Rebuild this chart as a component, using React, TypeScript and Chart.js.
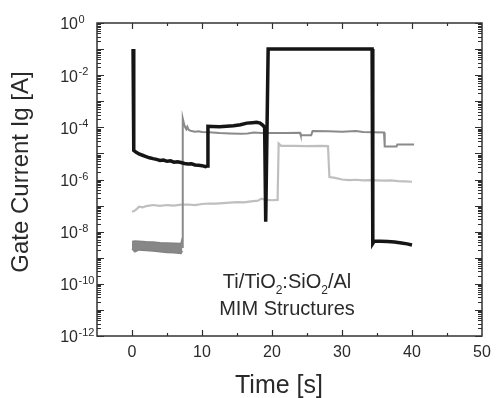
import React, { useEffect, useRef } from "react";
import { Chart, registerables } from "chart.js";

Chart.register(...registerables);

// ---- data (time in s, current in A) ----
const blackT = [0.15, 0.25, 0.6, 1.0, 1.5, 2.0, 2.5, 3.0, 3.5, 4.0, 4.5, 5.0, 5.5, 6.0, 6.5, 7.0, 7.5, 8.0, 8.5, 9.0, 9.5, 10.0, 10.5, 10.75, 10.85, 11.5, 12.5, 13.5, 14.5, 15.5, 16.4, 17.2, 17.8, 18.3, 18.7, 18.95, 19.1, 19.45, 34.3, 34.4, 34.6, 35.5, 36.5, 37.5, 38.5, 39.3, 40.0];
const blackI = [0.1, 1.3e-5, 1.1e-5, 9.5e-6, 8.5e-6, 7.6e-6, 6.8e-6, 6.3e-6, 5.9e-6, 5.4e-6, 5.6e-6, 5.0e-6, 5.2e-6, 4.6e-6, 4.8e-6, 4.5e-6, 4.1e-6, 3.9e-6, 4.0e-6, 3.6e-6, 3.5e-6, 3.4e-6, 3.1e-6, 3.3e-6, 1.1e-4, 1.08e-4, 1.05e-4, 1.1e-4, 1.15e-4, 1.25e-4, 1.45e-4, 1.5e-4, 1.55e-4, 1.45e-4, 1.2e-4, 1.0e-4, 2.4e-8, 0.1, 0.1, 3.6e-9, 4.4e-9, 4.3e-9, 4.2e-9, 4.0e-9, 3.7e-9, 3.4e-9, 3.1e-9];

const grayT = [7.15, 7.25, 7.45, 7.6, 7.75, 7.9, 8.1, 8.5, 9.0, 9.5, 10.0, 11.0, 12.5, 14.0, 15.5, 16.5, 17.4, 18.5, 20.0, 22.0, 24.0, 24.1, 25.6, 25.8, 28.0, 30.0, 32.0, 33.0, 36.0, 36.1, 37.8, 37.9, 40.3];
const grayI = [2.6e-9, 2.2e-4, 1.3e-4, 1.0e-4, 8.5e-5, 1.05e-4, 8e-5, 7.2e-5, 6.8e-5, 7.0e-5, 6.6e-5, 6.5e-5, 6.0e-5, 5.8e-5, 5.7e-5, 5.8e-5, 6.3e-5, 6.0e-5, 6.1e-5, 6.0e-5, 6.2e-5, 5.0e-5, 5.0e-5, 7.2e-5, 7.0e-5, 6.8e-5, 7.3e-5, 6.6e-5, 6.4e-5, 1.85e-5, 1.85e-5, 2.2e-5, 2.2e-5];

const bandT = [0, 0.4, 1, 2, 3, 4, 5, 6, 7, 7.2];
const bandHi = [4.2e-9, 4.4e-9, 4.3e-9, 4.1e-9, 4.0e-9, 3.8e-9, 3.7e-9, 3.6e-9, 3.5e-9, 5.7e-9];
const bandLo = [2.2e-9, 1.7e-9, 2.0e-9, 1.9e-9, 1.8e-9, 1.7e-9, 1.6e-9, 1.55e-9, 1.45e-9, 1.8e-9];

const lightT = [0, 0.3, 0.7, 1.0, 1.5, 2, 2.5, 3, 4, 5, 6, 7, 8, 9, 10, 11, 12, 13, 14, 15, 16, 17, 18, 18.5, 19, 20, 20.8, 20.95, 21.3, 23, 25, 27, 28.0, 28.2, 29, 30, 31, 32, 33, 34, 35, 36, 37, 38, 39, 40];
const lightI = [5.8e-8, 6.2e-8, 7.5e-8, 9e-8, 8.5e-8, 9.5e-8, 1.0e-7, 1.05e-7, 9.8e-8, 1.05e-7, 1.0e-7, 1.08e-7, 1.1e-7, 1.05e-7, 1.15e-7, 1.2e-7, 1.18e-7, 1.25e-7, 1.3e-7, 1.35e-7, 1.32e-7, 1.45e-7, 1.55e-7, 1.85e-7, 1.7e-7, 1.6e-7, 1.65e-7, 2.4e-5, 1.95e-5, 1.95e-5, 1.9e-5, 1.95e-5, 1.9e-5, 1.25e-6, 1.15e-6, 1.0e-6, 9.5e-7, 9.8e-7, 9.3e-7, 9.5e-7, 9.2e-7, 9.0e-7, 9.3e-7, 8.7e-7, 8.5e-7, 8.2e-7];

const xTickLabels = [0, 10, 20, 30, 40, 50];
const yTickExponents = [0, -2, -4, -6, -8, -10, -12];

const xTitle = "Time [s]";
const yTitle = "Gate Current Ig [A]";

const zip = (t: number[], v: number[]) => t.map((x, i) => ({ x, y: v[i] }));

const FONT = "'Liberation Sans', Arial, Helvetica, sans-serif";

const decor = {
  id: "decor",
  beforeDraw(chart: any) {
    const ctx = chart.ctx;
    ctx.save();
    ctx.fillStyle = "#ffffff";
    ctx.fillRect(0, 0, chart.width, chart.height);
    ctx.restore();
  },
  afterDraw(chart: any) {
    const ctx: CanvasRenderingContext2D = chart.ctx;
    const { left, right, top, bottom } = chart.chartArea;
    const xs = chart.scales.x;
    const ys = chart.scales.y;
    ctx.save();
    // ticks
    ctx.strokeStyle = "#2e2e2e";
    ctx.lineWidth = 1.2;
    ctx.beginPath();
    for (let e = -12; e <= 0; e++) {
      const py = Math.round(ys.getPixelForValue(Math.pow(10, e))) + 0.5;
      ctx.moveTo(left, py); ctx.lineTo(left + 7, py);
      ctx.moveTo(right, py); ctx.lineTo(right - 7, py);
      if (e < 0) {
        for (let m = 2; m <= 9; m++) {
          const pm = Math.round(ys.getPixelForValue(m * Math.pow(10, e))) + 0.5;
          ctx.moveTo(left, pm); ctx.lineTo(left + 4, pm);
          ctx.moveTo(right, pm); ctx.lineTo(right - 4, pm);
        }
      }
    }
    for (let t = 0; t < 50; t += 5) {
      const px = Math.round(xs.getPixelForValue(t)) + 0.5;
      const len = t % 10 === 0 ? 6 : 3;
      ctx.moveTo(px, bottom); ctx.lineTo(px, bottom - len);
      ctx.moveTo(px, top); ctx.lineTo(px, top + len);
    }
    ctx.stroke();
    // frame
    ctx.strokeStyle = "#333333";
    ctx.lineWidth = 1.5;
    ctx.strokeRect(left, top, right - left, bottom - top);

    // tick labels
    ctx.fillStyle = "#2a2a2a";
    ctx.textBaseline = "middle";
    for (const e of yTickExponents) {
      const py = ys.getPixelForValue(Math.pow(10, e));
      ctx.font = `16px ${FONT}`;
      ctx.textAlign = "right";
      ctx.fillText("10", 78, py + 2);
      ctx.font = `11px ${FONT}`;
      ctx.textAlign = "left";
      ctx.fillText(String(e), 78.5, py - 3);
    }
    ctx.font = `16px ${FONT}`;
    ctx.textAlign = "center";
    ctx.textBaseline = "alphabetic";
    for (const v of xTickLabels) {
      ctx.fillText(String(v), xs.getPixelForValue(v), 357);
    }

    // axis titles
    ctx.font = `25px ${FONT}`;
    ctx.fillText(xTitle, 279, 393);
    ctx.save();
    ctx.translate(21, 172);
    ctx.rotate(-Math.PI / 2);
    ctx.font = `24px ${FONT}`;
    ctx.textBaseline = "middle";
    ctx.fillText(yTitle, 0, 0);
    ctx.restore();

    // annotation
    const parts: [string, boolean][] = [["Ti/TiO", false], ["2", true], [":SiO", false], ["2", true], ["/Al", false]];
    const big = `20px ${FONT}`;
    const small = `12px ${FONT}`;
    let w = 0;
    for (const [s, sub] of parts) { ctx.font = sub ? small : big; w += ctx.measureText(s).width; }
    let cx = 287 - w / 2;
    ctx.textAlign = "left";
    for (const [s, sub] of parts) {
      ctx.font = sub ? small : big;
      ctx.fillText(s, cx, sub ? 294 : 288);
      cx += ctx.measureText(s).width;
    }
    ctx.font = big;
    ctx.textAlign = "center";
    ctx.fillText("MIM Structures", 287, 315);
    ctx.restore();
  },
};

export default function App() {
  const ref = useRef<HTMLCanvasElement>(null);
  useEffect(() => {
    if (!ref.current) return;
    const chart = new Chart(ref.current, {
      type: "line",
      data: {
        datasets: [
          { label: "black", data: zip(blackT, blackI), borderColor: "#151515", borderWidth: 3.5, order: 0 } as any,
          { label: "gray", data: zip(grayT, grayI), borderColor: "#8a8a8a", borderWidth: 2, order: 1 } as any,
          { label: "light", data: zip(lightT, lightI), borderColor: "#bfbfbf", borderWidth: 2.2, order: 3 } as any,
          { label: "bandHi", data: zip(bandT, bandHi), borderColor: "#838383", borderWidth: 1.5, fill: false, order: 2 } as any,
          { label: "bandLo", data: zip(bandT, bandLo), borderColor: "#838383", backgroundColor: "#878787", borderWidth: 1.5, fill: "-1", order: 2 } as any,
        ],
      },
      options: {
        animation: false,
        responsive: false,
        maintainAspectRatio: false,
        layout: { padding: { left: 97, right: 14, top: 23, bottom: 62 } },
        elements: { point: { radius: 0 }, line: { tension: 0, borderJoinStyle: "miter" } },
        scales: {
          x: { type: "linear", min: -5, max: 50, display: false },
          y: { type: "logarithmic", min: 1e-12, max: 1, display: false },
        },
        plugins: { legend: { display: false }, tooltip: { enabled: false } },
      },
      plugins: [decor],
    } as any);
    return () => chart.destroy();
  }, []);
  return (
    <div style={{ position: "fixed", left: 0, top: 0, width: 496, height: 398 }}>
      <canvas ref={ref} width={496} height={398} style={{ width: 496, height: 398 }} />
    </div>
  );
}
